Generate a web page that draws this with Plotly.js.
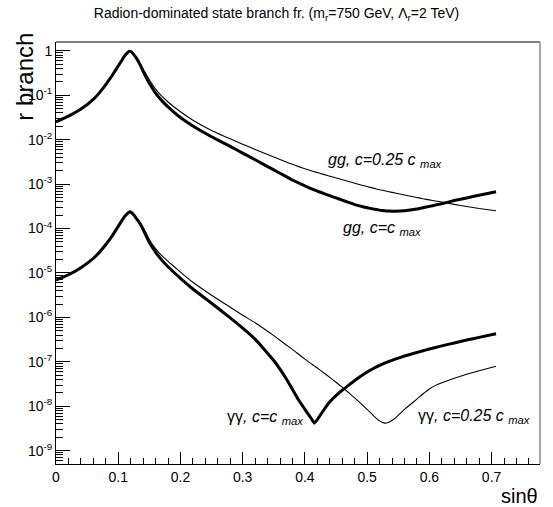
<!DOCTYPE html>
<html>
<head>
<meta charset="utf-8">
<script src="https://cdn.plot.ly/plotly-3.0.1.min.js"></script>
<style>html,body{margin:0;padding:0;background:#fff;}#chart{width:553px;height:507px;}</style>
</head>
<body>
<div id="chart"></div>
<script>
// sin(theta) sampling points
var sinTheta = [0, 0.02, 0.04, 0.06, 0.07, 0.08, 0.09, 0.10, 0.105, 0.11, 0.115, 0.118, 0.121, 0.126, 0.13, 0.135, 0.14,
  0.15, 0.16, 0.17, 0.18, 0.20, 0.22, 0.25, 0.28, 0.30, 0.32, 0.35, 0.37, 0.38, 0.39, 0.40, 0.41, 0.415, 0.42, 0.43, 0.44,
  0.45, 0.46, 0.47, 0.48, 0.50, 0.51, 0.52, 0.528, 0.535, 0.545, 0.56, 0.58, 0.59, 0.60, 0.61, 0.62, 0.64, 0.66, 0.68, 0.7071];

// gg, c = c_max (thick)
var ggCmax = [2.51e-2, 3.39e-2, 4.90e-2, 8.13e-2, 0.115, 0.174, 0.275, 0.457, 0.589, 0.759, 0.912, 0.977, 0.955, 0.794, 0.661, 0.490, 0.347,
  0.186, 0.112, 7.59e-2, 5.50e-2, 3.16e-2, 2.04e-2, 1.17e-2, 7.08e-3, 5.01e-3, 3.55e-3, 2.09e-3, 1.48e-3, 1.24e-3, 1.06e-3, 9.12e-4, 7.94e-4, 7.41e-4, 7.00e-4, 6.17e-4, 5.50e-4,
  4.90e-4, 4.37e-4, 3.89e-4, 3.47e-4, 2.95e-4, 2.75e-4, 2.60e-4, 2.51e-4, 2.47e-4, 2.45e-4, 2.51e-4, 2.75e-4, 2.95e-4, 3.16e-4, 3.39e-4, 3.63e-4, 4.27e-4, 4.90e-4, 5.62e-4, 6.76e-4];

// gg, c = 0.25 c_max (thin)
var ggC025 = [2.51e-2, 3.39e-2, 4.90e-2, 8.13e-2, 0.115, 0.174, 0.275, 0.457, 0.589, 0.759, 0.912, 0.977, 0.955, 0.813, 0.692, 0.525, 0.389,
  0.224, 0.138, 9.55e-2, 7.08e-2, 4.27e-2, 2.75e-2, 1.62e-2, 1.05e-2, 7.94e-3, 6.03e-3, 4.07e-3, 3.16e-3, 2.79e-3, 2.48e-3, 2.21e-3, 2.00e-3, 1.91e-3, 1.82e-3, 1.66e-3, 1.51e-3,
  1.38e-3, 1.26e-3, 1.15e-3, 1.05e-3, 8.81e-4, 8.13e-4, 7.50e-4, 7.08e-4, 6.76e-4, 6.31e-4, 5.69e-4, 5.01e-4, 4.68e-4, 4.42e-4, 4.17e-4, 3.94e-4, 3.51e-4, 3.13e-4, 2.82e-4, 2.51e-4];

// gamma gamma, c = c_max (thick)
var aaCmax = [6.92e-6, 9.12e-6, 1.32e-5, 2.14e-5, 2.95e-5, 4.37e-5, 6.76e-5, 1.12e-4, 1.45e-4, 1.86e-4, 2.21e-4, 2.37e-4, 2.32e-4, 1.95e-4, 1.62e-4, 1.29e-4, 9.55e-5,
  4.90e-5, 2.95e-5, 1.95e-5, 1.38e-5, 7.59e-6, 4.37e-6, 2.09e-6, 9.77e-7, 5.75e-7, 3.24e-7, 1.07e-7, 4.17e-8, 2.40e-8, 1.38e-8, 8.51e-9, 5.37e-9, 4.17e-9, 5.01e-9, 8.13e-9, 1.26e-8,
  1.74e-8, 2.29e-8, 2.95e-8, 3.80e-8, 5.89e-8, 7.08e-8, 8.32e-8, 9.33e-8, 1.02e-7, 1.15e-7, 1.35e-7, 1.62e-7, 1.78e-7, 1.95e-7, 2.11e-7, 2.29e-7, 2.66e-7, 3.09e-7, 3.55e-7, 4.27e-7];

// gamma gamma, c = 0.25 c_max (thin)
var aaC025 = [6.92e-6, 9.12e-6, 1.32e-5, 2.14e-5, 2.95e-5, 4.37e-5, 6.76e-5, 1.12e-4, 1.45e-4, 1.86e-4, 2.21e-4, 2.37e-4, 2.32e-4, 2.00e-4, 1.70e-4, 1.35e-4, 1.05e-4,
  5.62e-5, 3.55e-5, 2.45e-5, 1.82e-5, 1.05e-5, 6.17e-6, 3.16e-6, 1.70e-6, 1.12e-6, 7.59e-7, 3.89e-7, 2.40e-7, 1.91e-7, 1.48e-7, 1.15e-7, 9.12e-8, 8.13e-8, 7.24e-8, 5.69e-8, 4.47e-8,
  3.47e-8, 2.69e-8, 2.04e-8, 1.55e-8, 8.51e-9, 6.17e-9, 4.68e-9, 4.17e-9, 4.37e-9, 5.37e-9, 8.51e-9, 1.45e-8, 1.91e-8, 2.45e-8, 2.95e-8, 3.39e-8, 4.27e-8, 5.25e-8, 6.31e-8, 7.94e-8];

// axis ticks
var yTickVals = [1e-9, 1e-8, 1e-7, 1e-6, 1e-5, 1e-4, 1e-3, 1e-2, 1e-1, 1];
var yTickText = ['10<sup>-9</sup>', '10<sup>-8</sup>', '10<sup>-7</sup>', '10<sup>-6</sup>', '10<sup>-5</sup>',
                 '10<sup>-4</sup>', '10<sup>-3</sup>', '10<sup>-2</sup>', '10<sup>-1</sup>', '1'];
var xTickVals = [0, 0.1, 0.2, 0.3, 0.4, 0.5, 0.6, 0.7];
var xTickText = ['0', '0.1', '0.2', '0.3', '0.4', '0.5', '0.6', '0.7'];

var yMinor = [];
for (var e = -10; e <= 0; e++) {
  for (var m = 2; m <= 9; m++) yMinor.push(m * Math.pow(10, e));
}

var FONT = 'Liberation Sans, Arial, Helvetica, sans-serif';

function trace(y, w) {
  return {x: sinTheta, y: y, mode: 'lines', type: 'scatter',
          line: {color: '#000', width: w, shape: 'spline', smoothing: 0.3}, hoverinfo: 'skip'};
}

var data = [trace(ggC025, 1.1), trace(ggCmax, 3), trace(aaC025, 1.1), trace(aaCmax, 3)];

var lab = {family: FONT, size: 16, color: '#000'};
var layout = {
  width: 553, height: 507,
  margin: {l: 56, r: 13, t: 42, b: 43, pad: 0},
  paper_bgcolor: '#fff', plot_bgcolor: '#fff',
  showlegend: false,
  font: {family: FONT, color: '#000'},
  title: {text: 'Radion-dominated state branch fr. (m<sub>r</sub>=750 GeV, \u039B<sub>r</sub>=2 TeV)',
          font: {family: FONT, size: 14, color: '#000'}, x: 0.5, xanchor: 'center', xref: 'container',
          y: 0.975, yanchor: 'middle', yref: 'container'},
  xaxis: {range: [0, 0.7778], showgrid: false, zeroline: false, showline: true, linecolor: '#000', linewidth: 1,
          tickmode: 'array', tickvals: xTickVals, ticktext: xTickText, ticks: 'inside', ticklen: 12, tickcolor: '#000',
          tickfont: {family: FONT, size: 14, color: '#000'},
          minor: {dtick: 0.02, ticks: 'inside', ticklen: 6, tickcolor: '#000', showgrid: false}},
  yaxis: {type: 'log', range: [-9.3, 0.2], showgrid: false, zeroline: false, showline: true, linecolor: '#000', linewidth: 1,
          tickmode: 'array', tickvals: yTickVals, ticktext: yTickText, ticks: 'inside', ticklen: 14, tickcolor: '#000',
          tickfont: {family: FONT, size: 14, color: '#000'},
          minor: {tickmode: 'array', tickvals: yMinor, ticks: 'inside', ticklen: 7, tickcolor: '#000', showgrid: false}},
  shapes: [
    {type: 'line', xref: 'paper', yref: 'paper', x0: 0, x1: 1, y0: 1, y1: 1, line: {color: '#000', width: 1}},
    {type: 'line', xref: 'paper', yref: 'paper', x0: 1, x1: 1, y0: 0, y1: 1, line: {color: '#888', width: 1.5}}
  ],
  annotations: [
    {text: 'gg, c=0.25 c <sub>max</sub>', x: 0.4344, y: -2.47, xref: 'x', yref: 'y', xanchor: 'left', yanchor: 'middle',
     showarrow: false, font: Object.assign({style: 'italic'}, lab)},
    {text: 'gg, c=c <sub>max</sub>', x: 0.4586, y: -4.0, xref: 'x', yref: 'y', xanchor: 'left', yanchor: 'middle',
     showarrow: false, font: Object.assign({style: 'italic'}, lab)},
    {text: '\u03B3\u03B3<i>, c=c</i> <sub><i>max</i></sub>', x: 0.272, y: -8.26, xref: 'x', yref: 'y', xanchor: 'left', yanchor: 'middle',
     showarrow: false, font: lab},
    {text: '\u03B3\u03B3<i>, c=0.25 c</i> <sub><i>max</i></sub>', x: 0.5792, y: -8.24, xref: 'x', yref: 'y', xanchor: 'left', yanchor: 'middle',
     showarrow: false, font: lab},
    {text: 'r branch', textangle: -90, xref: 'paper', yref: 'paper', x: -0.064, y: 1.027, xanchor: 'center', yanchor: 'top',
     showarrow: false, font: {family: FONT, size: 24, color: '#000'}},
    {text: 'sin\u03B8', xref: 'paper', yref: 'paper', x: 1, y: -0.045, xanchor: 'right', yanchor: 'top',
     showarrow: false, font: {family: FONT, size: 20, color: '#000'}}
  ]
};

Plotly.newPlot('chart', data, layout, {displayModeBar: false, staticPlot: true});
</script>
</body>
</html>
